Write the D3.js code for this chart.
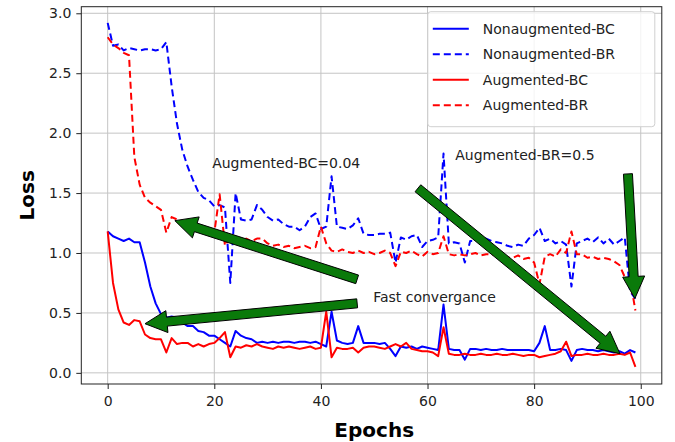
<!DOCTYPE html>
<html>
<head>
<meta charset="utf-8">
<script src="https://cdn.jsdelivr.net/npm/d3@7"></script>
<style>
  body { margin: 0; background: #fff; }
  text { font-family: "DejaVu Sans", sans-serif; }
</style>
</head>
<body>
<div id="loss_chart"></div>
<script>
// epochs 0..99
const epochs = d3.range(100);

const nonaugBC = [
  1.18, 1.14, 1.12, 1.10, 1.12, 1.09, 1.09, 0.92, 0.72, 0.58,
  0.49, 0.46, 0.47, 0.46, 0.42, 0.39, 0.39, 0.35, 0.34, 0.31,
  0.31, 0.28, 0.25, 0.22, 0.35, 0.31, 0.29, 0.28, 0.25, 0.26,
  0.25, 0.26, 0.25, 0.26, 0.26, 0.25, 0.26, 0.26, 0.25, 0.26,
  0.24, 0.22, 0.51, 0.27, 0.25, 0.24, 0.25, 0.39, 0.25, 0.25,
  0.25, 0.24, 0.25, 0.20, 0.14, 0.22, 0.21, 0.22, 0.20, 0.22,
  0.21, 0.20, 0.19, 0.57, 0.20, 0.19, 0.19, 0.11, 0.20, 0.20,
  0.19, 0.20, 0.19, 0.19, 0.20, 0.19, 0.19, 0.19, 0.19, 0.19,
  0.18, 0.25, 0.39, 0.19, 0.19, 0.20, 0.19, 0.10, 0.19, 0.20,
  0.19, 0.19, 0.18, 0.19, 0.18, 0.17, 0.18, 0.16, 0.19, 0.17
];

const nonaugBR = [
  2.92, 2.73, 2.74, 2.69, 2.71, 2.70, 2.69, 2.70, 2.70, 2.69,
  2.70, 2.76, 2.39, 2.08, 1.86, 1.72, 1.61, 1.51, 1.46, 1.44,
  1.39, 1.40, 1.38, 0.75, 1.50, 1.28, 1.27, 1.28, 1.40, 1.36,
  1.30, 1.27, 1.28, 1.24, 1.22, 1.22, 1.19, 1.22, 1.30, 1.33,
  1.20, 1.22, 1.64, 1.22, 1.21, 1.20, 1.23, 1.29, 1.16, 1.15,
  1.15, 1.16, 1.16, 1.17, 0.92, 1.13, 1.11, 1.14, 1.15, 1.05,
  1.10, 1.11, 1.13, 1.83, 1.08, 1.09, 1.08, 0.92, 1.10, 1.10,
  1.14, 1.12, 1.10, 1.09, 1.08, 1.06, 1.05, 1.07, 1.06, 1.12,
  1.15, 1.21, 1.10, 1.12, 1.08, 1.10, 1.07, 0.72, 1.08, 1.10,
  1.12, 1.09, 1.13, 1.08, 1.12, 1.07, 1.10, 1.13, 0.68, 0.62
];

const augBC = [
  1.18, 0.75, 0.53, 0.42, 0.40, 0.44, 0.43, 0.32, 0.29, 0.28,
  0.28, 0.17, 0.29, 0.24, 0.25, 0.25, 0.22, 0.24, 0.22, 0.24,
  0.25, 0.29, 0.34, 0.13, 0.22, 0.21, 0.23, 0.22, 0.24, 0.22,
  0.21, 0.20, 0.22, 0.21, 0.22, 0.21, 0.20, 0.21, 0.22, 0.20,
  0.21, 0.51, 0.13, 0.21, 0.20, 0.20, 0.21, 0.17, 0.21, 0.22,
  0.22, 0.21, 0.20, 0.22, 0.24, 0.22, 0.25, 0.20, 0.19, 0.18,
  0.18, 0.17, 0.14, 0.38, 0.16, 0.15, 0.15, 0.16, 0.15, 0.15,
  0.16, 0.15, 0.15, 0.16, 0.15, 0.15, 0.16, 0.15, 0.14, 0.15,
  0.15, 0.13, 0.14, 0.15, 0.16, 0.18, 0.26, 0.14, 0.15, 0.15,
  0.16, 0.15, 0.15, 0.16, 0.15, 0.15, 0.16, 0.15, 0.17, 0.05
];

const augBR = [
  2.80, 2.74, 2.71, 2.67, 2.65, 1.80, 1.57, 1.46, 1.42, 1.39,
  1.36, 1.17, 1.30, 1.28, 1.25, 1.22, 1.22, 1.20, 1.18, 1.15,
  1.17, 1.49, 1.06, 1.14, 1.12, 1.11, 1.12, 1.10, 1.12, 1.12,
  1.08, 1.06, 1.07, 1.05, 1.06, 1.04, 1.05, 1.06, 1.04, 1.05,
  1.22, 1.08, 1.02, 1.01, 1.03, 1.01, 1.00, 1.02, 1.00, 1.01,
  0.99, 1.00, 1.02, 1.00, 0.89, 1.01, 1.00, 1.02, 0.99, 0.97,
  1.01, 0.99, 1.00, 1.14, 0.99, 0.98, 0.99, 0.98, 0.99, 1.00,
  0.98, 0.99, 0.99, 0.98, 0.97, 0.96, 0.96, 0.98, 0.95, 0.96,
  0.92, 0.74, 0.97, 0.99, 0.97, 1.03, 1.00, 1.18, 0.99, 0.99,
  0.96, 0.97, 0.95, 0.96, 0.95, 0.93, 0.90, 0.80, 0.78, 0.52
];

const seriesNames = ["Nonaugmented-BC", "Nonaugmented-BR", "Augmented-BC", "Augmented-BR"];
const xTicks = [0, 20, 40, 60, 80, 100];
const yTicks = [0.0, 0.5, 1.0, 1.5, 2.0, 2.5, 3.0];

// annotation texts and arrows in data units: [epoch, loss]
const notes = [
  {label: "Augmented-BC=0.04", at: [19.6, 1.71]},
  {label: "Augmented-BR=0.5", at: [65.2, 1.78]},
  {label: "Fast convergance", at: [49.8, 0.59]}
];
const arrows = [
  {from: [46.8, 0.78], to: [12.6, 1.27]},
  {from: [46.8, 0.58], to: [7.0, 0.41]},
  {from: [58.2, 1.54], to: [96.1, 0.16]},
  {from: [97.6, 1.66], to: [98.9, 0.62]}
];

const series = [
  {name: seriesNames[0], values: nonaugBC, color: "#0000ff", dash: null},
  {name: seriesNames[1], values: nonaugBR, color: "#0000ff", dash: "7,4"},
  {name: seriesNames[2], values: augBC, color: "#ff0000", dash: null},
  {name: seriesNames[3], values: augBR, color: "#ff0000", dash: "7,4"}
];

// set the dimensions and margins of the graph
const margin = {top: 6.7, right: 13.2, bottom: 58, left: 81.3},
    width = 675 - margin.left - margin.right,
    height = 442 - margin.top - margin.bottom;

const svg = d3.select("#loss_chart")
  .append("svg")
    .attr("width", width + margin.left + margin.right)
    .attr("height", height + margin.top + margin.bottom)
  .append("g")
    .attr("transform", `translate(${margin.left},${margin.top})`);

const x = d3.scaleLinear().domain([-4.95, 103.95]).range([0, width]);
const y = d3.scaleLinear().domain([-0.093, 3.055]).range([height, 0]);

// grid
svg.append("g")
  .selectAll("line")
  .data(xTicks)
  .join("line")
    .attr("x1", d => x(d)).attr("x2", d => x(d))
    .attr("y1", 0).attr("y2", height)
    .attr("stroke", "#c4c4c4").attr("stroke-width", 1);
svg.append("g")
  .selectAll("line")
  .data(yTicks)
  .join("line")
    .attr("x1", 0).attr("x2", width)
    .attr("y1", d => y(d)).attr("y2", d => y(d))
    .attr("stroke", "#c4c4c4").attr("stroke-width", 1);

// axes
const xAxis = svg.append("g")
  .attr("transform", `translate(0, ${height})`)
  .call(d3.axisBottom(x).tickValues(xTicks).tickFormat(d3.format("d")).tickSize(5).tickPadding(7).tickSizeOuter(0));
const yAxis = svg.append("g")
  .call(d3.axisLeft(y).tickValues(yTicks).tickFormat(d3.format(".1f")).tickSize(5).tickPadding(5).tickSizeOuter(0));
[xAxis, yAxis].forEach(a => {
  a.select(".domain").remove();
  a.selectAll("line").attr("stroke", "#222");
  a.selectAll("text").attr("fill", "#222").style("font-size", "14px").style("font-family", "DejaVu Sans");
});

// lines
const line = d3.line()
  .x((d, i) => x(epochs[i]))
  .y(d => y(d));

series.forEach(s => {
  svg.append("path")
    .datum(s.values)
    .attr("fill", "none")
    .attr("stroke", s.color)
    .attr("stroke-width", 2)
    .attr("stroke-dasharray", s.dash)
    .attr("stroke-linejoin", "round")
    .attr("d", line);
});

// frame
svg.append("rect")
  .attr("width", width).attr("height", height)
  .attr("fill", "none").attr("stroke", "#222").attr("stroke-width", 1);

// axis titles
svg.append("text")
  .attr("x", x(50)).attr("y", height + 53)
  .attr("text-anchor", "middle")
  .style("font-size", "20px").style("font-weight", "bold")
  .text("Epochs");
svg.append("text")
  .attr("transform", `translate(${-47}, ${height / 2}) rotate(-90)`)
  .attr("text-anchor", "middle")
  .style("font-size", "20px").style("font-weight", "bold")
  .text("Loss");

// legend
const legend = svg.append("g").attr("transform", `translate(${width - 234}, 5)`);
legend.append("rect")
  .attr("width", 227).attr("height", 115).attr("rx", 3)
  .attr("fill", "#fff").attr("fill-opacity", 0.8)
  .attr("stroke", "#d0d0d0");
series.forEach((s, i) => {
  const ly = 17 + i * 25.5;
  legend.append("line")
    .attr("x1", 5).attr("x2", 41).attr("y1", ly).attr("y2", ly)
    .attr("stroke", s.color).attr("stroke-width", 2)
    .attr("stroke-dasharray", s.dash);
  legend.append("text")
    .attr("x", 55).attr("y", ly + 5)
    .style("font-size", "14px").attr("fill", "#222")
    .text(s.name);
});

// arrows
function arrowPath(a) {
  const x0 = x(a.from[0]), y0 = y(a.from[1]), x1 = x(a.to[0]), y1 = y(a.to[1]);
  const len = Math.hypot(x1 - x0, y1 - y0);
  const ux = (x1 - x0) / len, uy = (y1 - y0) / len;
  const px = -uy, py = ux;
  const w = 4.5, hw = 11, hl = 22;
  const bx = x1 - ux * hl, by = y1 - uy * hl;
  const pts = [
    [x0 + px * w, y0 + py * w],
    [bx + px * w, by + py * w],
    [bx + px * hw, by + py * hw],
    [x1, y1],
    [bx - px * hw, by - py * hw],
    [bx - px * w, by - py * w],
    [x0 - px * w, y0 - py * w]
  ];
  return "M" + pts.map(p => p.join(",")).join("L") + "Z";
}
svg.append("g")
  .selectAll("path")
  .data(arrows)
  .join("path")
    .attr("d", arrowPath)
    .attr("fill", "#0a7a0a")
    .attr("stroke", "#000")
    .attr("stroke-width", 1);

// notes
svg.append("g")
  .selectAll("text")
  .data(notes)
  .join("text")
    .attr("x", d => x(d.at[0]))
    .attr("y", d => y(d.at[1]))
    .style("font-size", "14px")
    .attr("fill", "#222")
    .text(d => d.label);
</script>
</body>
</html>
